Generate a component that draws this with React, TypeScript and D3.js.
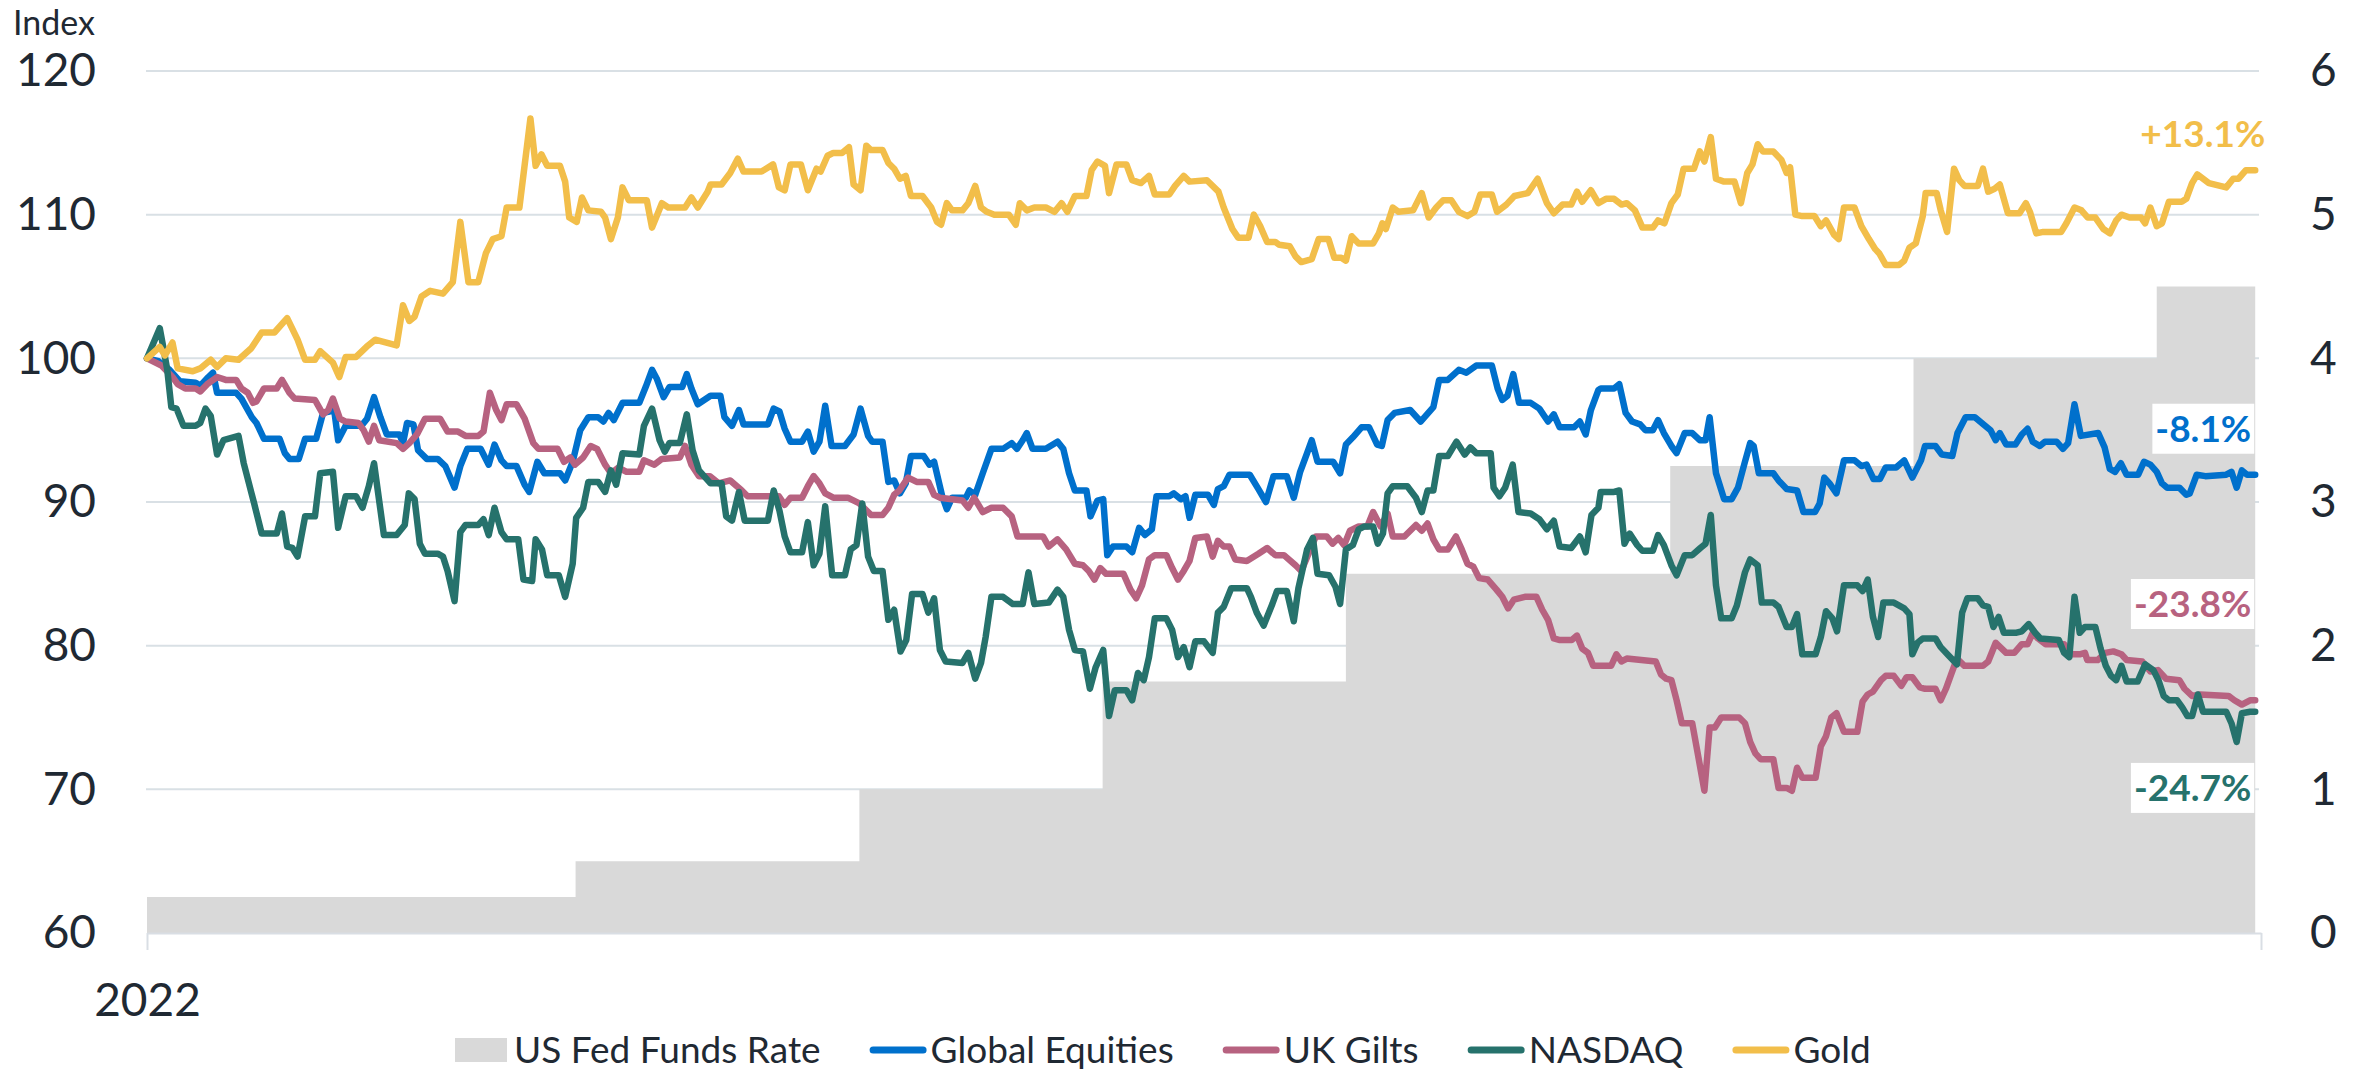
import React, { useRef, useEffect } from "react";
import * as d3 from "d3";

// day of 2022 (0 = 1 Jan), index value (1 Jan 2022 = 100)
const equities = [
  [0,100],[2,99.8],[3.9,99.2],[5.7,98.4],[8.4,98.3],[9.2,98.1],[10.6,98.7],[11.4,99],[12.1,97.6],[15.4,97.6],[16.3,97.2],[18.1,95.9],[18.9,95.5],[20.2,94.4],[22.9,94.4],[23.8,93.4],[24.6,93],[26.2,93],[27.3,94.4],[29.2,94.4],[30.4,96.2],[31.5,96.3],[32.1,97.1],[33,94.3],[34.3,95.3],[37,95.3],[38,95.8],[39.2,97.3],[40.3,95.9],[41.4,94.7],[43.6,94.7],[44.2,94.1],[44.9,95.5],[46,95.4],[46.8,93.6],[48.3,93],[50.2,93],[51.5,92.5],[53.1,91],[54.1,92.5],[55.3,93.7],[57.6,93.7],[59,92.6],[60,94],[61.2,92.9],[62.1,92.5],[63.8,92.5],[65.2,91.2],[66,90.7],[67.4,92.8],[68.6,92],[71.3,92],[72.2,91.5],[73.5,92.8],[74.8,95],[76.2,95.9],[77.9,95.9],[78.8,95.6],[79.7,96.2],[80.6,95.7],[82.1,96.9],[85,96.9],[86.1,98],[87.2,99.2],[88,98.6],[89.2,97.3],[90.2,98],[92.4,98],[93.2,98.9],[94,97.9],[95.1,96.8],
  [97.3,97.4],[99,97.4],[99.7,95.9],[101,95.3],[102.2,96.4],[103,95.4],[107.2,95.4],[108.2,96.5],[109.2,96.3],[110.1,95.1],[111.1,94.2],[113.1,94.2],[114.1,94.9],[115.1,93.5],[116.1,94.2],[117.1,96.7],[118.2,93.9],[120.5,93.9],[122,94.7],[123.2,96.5],[124.5,94.6],[125.2,94.2],[127,94.2],[128,91.4],[129,91.5],[130,90.6],[131,91.3],[131.9,93.2],[134.1,93.2],[135.1,92.6],[135.9,92.8],[137.3,90.4],[138.1,89.5],[139,90.3],[141.4,90.3],[142,90.8],[143,90.5],[144.3,92],[145.8,93.7],[147.8,93.7],[149.3,94.1],[150.2,93.7],[151.2,94.3],[151.9,94.8],[152.9,93.7],[155.2,93.7],[157.2,94.2],[158.2,93.7],[159.2,92],[160.2,90.8],[162.2,90.8],[162.9,89],[164.1,90.1],[165.1,90.2],[165.8,86.3],[166.8,86.9],[169.1,86.9],[170.1,86.5],[171.3,88.2],[172.3,87.7],[173.5,88.1],[174.3,90.4],[176.5,90.4],[177.3,90.6],[178.5,90.2],[179.3,90.4],[180,88.9],[181,90.5],[183.2,90.5],[184.2,89.8],[184.9,90.9],[185.9,91.1],[186.9,91.9],[190.4,91.9],[191.9,90.9],[193.2,90],[194.5,91.8],[196.8,91.8],[198,90.3],[199.1,92.1],[200.3,93.4],[201.1,94.3],[202.1,92.8],[204.8,92.8],[206,92],[207,94],[208.2,94.5],[209.7,95.2],[211,95.2],[212.4,94],[213.2,93.9],[214.2,95.7],[215.4,96.2],[218.1,96.4],[219.9,95.6],[222.1,96.6],[223.1,98.5],[224.6,98.5],[226.5,99.2],[227.8,99],[229.5,99.5],[232.2,99.5],[233.2,97.9],[234,97.1],[234.9,97.4],[235.9,98.9],[236.9,96.9],[238.9,96.9],[240.4,96.5],[241.9,95.6],[242.9,96.1],[243.9,95.2],[246.4,95.2],[247.4,95.6],[248.4,94.7],[249.3,96.4],[250.6,97.8],
  [251,97.9],[253.3,97.9],[254.2,98.2],[255.3,96.2],[256.4,95.6],[257.8,95.4],[258.7,95],[260,95],[260.9,95.7],[261.9,94.8],[263.2,93.9],[264.1,93.4],[265.5,94.8],[266.8,94.8],[268.1,94.3],[269.1,94.3],[269.8,95.9],[270.9,92],[272.3,90.2],[273.6,90.2],[274.7,91],[275.9,92.8],[276.8,94.1],[277.4,93.9],[278.3,92],[280.8,92],[281.7,91.5],[283.1,90.9],[284.9,90.8],[286,89.3],[288,89.3],[288.8,89.9],[289.6,91.7],[290.5,91.3],[291.7,90.6],[293,92.9],[294.8,92.9],[296,92.5],[296.9,92.6],[298.1,91.6],[299.2,91.6],[300.2,92.4],[302,92.4],[303.4,92.9],[304.8,91.7],[306.3,92.9],[307,93.9],[308.8,93.9],[309.9,93.3],[311.7,93.2],[312.6,94.8],[314,95.9],[315.6,95.9],[317.1,95.4],[318.3,95],[319.2,94.3],[319.9,94.8],[321,94],[322.6,94],[323.7,94.7],[324.7,95.1],[325.6,94.2],[326.8,93.9],[327.7,94.2],[329.7,94.2],[330.8,93.7],[331.7,94.1],[332.8,96.8],[333.9,94.6],[336.9,94.8],[338,93.8],[338.9,92.3],[339.8,92.1],[340.8,92.7],[341.8,91.9],[343.8,91.9],[344.8,92.8],[345.9,92.6],[347,92.1],[347.9,91.3],[348.8,91],[350.9,91],[352.1,90.5],[352.7,90.6],[353.9,91.9],[355.4,91.8],[359,91.9],[359.9,92.1],[360.8,91],[361.7,92.2],[362.6,91.9],[364,91.9]
];

const gilts = [
  [0,100],[2.5,99.5],[4.4,98.7],[5.3,98.2],[6.6,97.9],[8.4,97.9],[9.2,97.7],[10.4,98.2],[12.1,98.7],[13.6,98.5],[15.4,98.5],[16.3,97.9],[17.4,97.6],[18.3,96.9],[18.9,97],[20.2,97.9],[22.4,97.9],[23.3,98.5],[24.6,97.6],[25.5,97.2],[29,97.1],[30.4,96.1],[31.3,96.4],[32.1,97.2],[33.3,95.8],[34.3,95.6],[36.5,95.5],[37.4,95],[38.3,94.2],[39.2,95.3],[40.1,94.3],[43.1,94.1],[44.2,93.7],[45.3,94.1],[46.6,94.7],[48,95.8],[50.6,95.8],[51.9,94.9],[53.7,94.9],[55,94.6],[57.2,94.6],[58.1,94.9],[59.2,97.6],[60.3,96.4],[61.2,95.7],[62.1,96.8],[63.8,96.8],[65.2,95.8],[66.7,94.1],[67.6,93.7],[70.9,93.7],[72,92.8],[73.1,93.1],[73.9,92.6],[75.3,93.1],[76.6,93.9],[77.7,93.7],[79.1,92.6],[80.1,92],[81.4,92.4],[82.8,92.1],[85,92.1],[85.8,92.9],[87.6,92.6],[88.9,93],[92,93.1],[92.9,93.9],[94,92.6],
  [95.3,91.8],[97.2,91.8],[98.7,91.3],[100.7,91.5],[102.7,90.8],[103.7,90.4],[109.1,90.4],[110.1,89.8],[111.1,90.3],[113.1,90.3],[114.1,91.1],[115.1,91.8],[116.1,91.3],[117.1,90.6],[118.5,90.3],[121,90.3],[123,89.9],[124.5,89.3],[125,89.1],[127,89.1],[128,89.6],[129,90.5],[129.9,90.8],[131.4,91.7],[132.9,91.4],[134.9,91.4],[135.9,90.5],[136.9,90.3],[140.8,90.1],[141.8,89.6],[142.8,90.3],[144.3,89.3],[145.8,89.6],[147.8,89.6],[149.3,89],[150.3,87.6],[154.7,87.6],[155.7,86.9],[157.2,87.4],[158.7,86.7],[160.2,85.7],[161.6,85.6],[162.6,85.2],[163.6,84.6],[164.6,85.4],[165.6,85],[168.6,85],[169.8,83.9],[170.8,83.3],[171.8,84.2],[173,86],[174,86.3],[176,86.3],[177,85.4],[178,84.6],[179,85.2],[180,85.9],[181,87.5],[183,87.6],[184,86.2],[184.9,87.3],[185.9,86.9],[186.9,86.9],[187.9,86],[189.9,85.9],[191.9,86.4],[193.4,86.8],[194.8,86.3],[196.3,86.3],[198.3,85.6],[199.3,85.2],[201.8,87.6],[203.7,87.6],[204.7,87.1],[205.7,87.5],[206.7,87],[207.7,88],[209.2,88.3],[210.7,88.3],[211.7,89.3],[213,88.3],[214.2,89.2],[215.1,87.6],[217.1,87.6],[219.1,88.4],[220.1,88],[221.1,88.5],[222.1,87.4],[223.1,86.7],[224.6,86.7],[226,87.6],[227,86.7],[228,85.7],[229,85.5],[230,84.7],[231.5,84.6],[233,83.9],[234,83.4],[235,82.6],[236,83.2],[237.9,83.4],[239.9,83.4],[240.9,82.5],[241.9,81.8],[242.9,80.5],
  [243.8,80.4],[246,80.4],[246.9,80.7],[247.8,79.8],[248.8,79.5],[249.7,78.6],[252.8,78.6],[253.7,79.4],[254.6,78.9],[255.5,79.1],[260.5,78.9],[261.4,78],[262.3,77.7],[263.2,77.6],[264.1,76.2],[265,74.6],[266.8,74.6],[267.7,72.6],[268.9,69.9],[269.8,74.3],[270.7,74.3],[271.8,75],[274.9,75],[275.9,74.6],[276.8,73.3],[277.7,72.5],[278.6,72.1],[280.8,72.1],[281.7,70.1],[283.1,70.1],[284,69.9],[284.9,71.5],[285.8,70.8],[288.1,70.8],[289,73],[289.9,73.7],[290.8,75],[291.7,75.3],[293,74],[295.3,74],[296.2,76.1],[297.1,76.6],[298,76.8],[299.4,77.6],[300.2,77.9],[301.6,77.9],[302.9,77.2],[303.8,77.8],[304.8,77.8],[306.1,77.1],[307,77],[308.8,77],[309.7,76.2],[310.6,77],[311.5,78],[312.5,79.1],[313.8,78.6],[317,78.6],[317.9,78.9],[319.2,80.2],[321,79.5],[322.4,79.5],[323.7,80.1],[324.7,80.1],[325.6,80.9],[326.5,80.5],[327.8,80.1],[331,80.1],[332.3,79.4],[333.7,79.4],[334.6,79.5],[335,79],[336.8,79],[338.1,79.5],[339.5,79.6],[340.9,79.4],[341.8,79],[344.5,78.9],[345.9,78.2],[347.2,78.3],[348.6,77.7],[350.9,77.6],[351.8,77],[353.1,76.5],[354.5,76.6],[359.4,76.5],[360.4,76.2],[361.7,75.9],[363.1,76.2],[364,76.2]
];

const nasdaq = [
  [0,100],[2.2,102.1],[2.8,100.8],[3.5,99.2],[4.2,96.6],[5.1,96.5],[6.3,95.3],[8.4,95.3],[9.2,95.5],[10.1,96.5],[11,96],[12.1,93.3],[13.2,94.3],[15.8,94.6],[16.7,92.7],[18.5,89.9],[19.8,87.8],[22.4,87.8],[23.3,89.2],[24.2,86.9],[25.1,86.8],[26,86.2],[27.3,89],[29,89],[29.9,92],[32.1,92.1],[33,88.2],[34.3,90.4],[36.1,90.4],[37.2,89.6],[38.3,91.1],[39.2,92.7],[40.9,87.7],[43.1,87.7],[44.5,88.4],[45.2,90.6],[46.2,90.2],[47.1,87.1],[48,86.4],[50.2,86.4],[51.1,86.2],[51.9,85.2],[53.1,83.1],[54.1,87.9],[55,88.4],[57.2,88.4],[58.1,88.8],[59,87.7],[60,89.6],[61.2,87.9],[62.1,87.4],[64.1,87.4],[65,84.6],[66.5,84.5],[67.1,87.4],[68.2,86.7],[69.1,84.9],[71.1,84.9],[72.2,83.4],[73.5,85.7],[74.1,88.9],[75.3,89.6],[76.2,91.4],[77.9,91.4],[79.1,90.7],[80.1,92.2],[81,91.2],[82.1,93.4],[85,93.3],[85.8,95.3],[87.2,96.5],[88.5,94.3],[89.4,93.5],[90.2,94.1],[92,94.1],[93.2,96.1],[94.2,93.6],
  [95.3,92.2],[97.3,91.3],[99.2,91.3],[100,89],[101,88.7],[102.2,90.7],[103.2,88.7],[107.2,88.7],[108.2,90.8],[109.2,89.4],[110.1,87.6],[111.1,86.5],[113.1,86.5],[114.1,88.6],[115.1,85.6],[116.1,86.4],[117.1,89.7],[118.3,84.9],[120.5,84.9],[121.5,86.7],[122.5,87],[123.5,89.9],[124.5,86.2],[125.5,85.2],[127,85.2],[128,81.8],[129,82.5],[130.1,79.6],[131.1,80.4],[132.1,83.6],[133.9,83.6],[134.9,82.3],[135.9,83.3],[136.9,79.7],[137.9,78.9],[140.8,78.8],[141.8,79.5],[143,77.7],[144,78.8],[144.8,80.6],[145.8,83.4],[147.8,83.4],[149.5,82.9],[151.2,82.9],[152.2,85.1],[153.2,82.9],[155.7,83],[157.2,83.9],[158.2,83.4],[159.2,81.1],[160.2,79.7],[161.6,79.6],[162.8,77],[163.8,78.5],[165.1,79.7],[166.1,75.1],[167.1,76.9],[169.1,76.9],[170.1,76.2],[171.1,78.1],[172.1,77.6],[173,79.2],[174,81.9],[176,81.9],[177,81.1],[178,79.2],[179,79.9],[180,78.5],[181,80.3],[182.5,80.3],[184,79.5],[184.9,82.3],[185.9,82.7],[187.2,84],[189.9,84],[190.6,83.4],[191.6,82.3],[192.8,81.4],[194.3,82.9],[195.1,83.8],[196.8,83.8],[198,81.7],[198.8,84],[200.3,86.7],[201.3,87.5],[202.1,85],[204.1,84.9],[205.2,84.1],[206,82.9],[207,86.7],[208.2,87],[209.2,88.1],[210.2,88.3],[211.7,88.3],[212.5,87.1],[213.4,87.8],[214.2,90.6],[215.1,91.1],[217.6,91.1],[219.1,90.3],[220.1,89.3],[221.1,90.8],[222.1,90.8],[223.1,93.2],[224.6,93.2],[226.1,94.2],[227.5,93.3],[228.5,93.8],[229.5,93.4],[232,93.4],[232.5,91],[233.5,90.4],[234.5,91],[235.8,92.6],[236.8,89.3],[238.9,89.2],[240.4,88.8],[241.7,88.1],[242.9,88.7],[243.9,86.9],[245.9,86.8],[247.4,87.6],[248.4,86.5],[249.4,89.1],[250.6,89.6],
  [251,90.7],[253.3,90.7],[254.2,90.8],[255.1,87.1],[256,87.8],[257.3,87],[258.2,86.6],[260,86.6],[260.9,87.7],[261.9,87],[263.2,85.6],[264.1,84.9],[265.5,86.3],[266.8,86.3],[268.2,86.8],[269.1,87.1],[270,89.1],[270.9,84.2],[271.8,81.9],[273.6,81.9],[274.5,82.8],[275.9,85.1],[276.8,86],[278.1,85.6],[278.8,83],[280.8,83],[281.7,82.7],[283.1,81.3],[284,81.3],[284.9,82.2],[285.8,79.4],[288.1,79.4],[289,80.6],[289.9,82.4],[291,81.9],[291.8,81],[293,84.2],[295.3,84.2],[296.2,83.8],[297.1,84.6],[298,82],[298.9,80.6],[299.8,83],[301.6,83],[303.4,82.6],[304.3,82.2],[304.8,79.4],[305.7,80.2],[306.6,80.5],[308.8,80.5],[309.7,79.9],[311.1,79.3],[312.5,78.7],[313.4,82.3],[314.3,83.3],[316.1,83.3],[317,82.8],[317.9,82.7],[318.8,81.3],[319.7,82],[320.6,80.9],[322.8,80.9],[323.7,81],[324.9,81.5],[326,80.9],[326.9,80.5],[330.1,80.4],[331,79.5],[331.9,79.2],[332.8,83.4],[333.7,80.9],[334.6,81.3],[336.4,81.3],[337.3,79.8],[338.2,78.6],[339.1,77.9],[340,77.6],[340.9,78.6],[341.8,77.5],[343.7,77.5],[345,78.7],[346.4,78.3],[347.3,77.6],[348.2,76.5],[349.1,76.2],[350.5,76.2],[351.4,75.7],[352.3,75.1],[353.1,75.1],[354.1,76.6],[355,75.4],[359,75.4],[359.9,74.6],[360.8,73.3],[361.7,75.3],[363.1,75.4],[364,75.4]
];

const gold = [
  [0,100],[2.2,100.8],[3.1,100.2],[4.4,101.1],[5.3,99.3],[7.9,99.1],[9.2,99.3],[11,99.9],[12.1,99.4],[13.6,100],[15.8,99.9],[18,100.7],[19.8,101.8],[22,101.8],[24.2,102.8],[26,101.3],[27.3,99.9],[29,99.9],[29.9,100.5],[32.1,99.7],[33.2,98.7],[34.3,100.1],[36.1,100.1],[37.9,100.8],[39.4,101.3],[43.1,100.9],[44.2,103.7],[45.3,102.6],[46.2,102.9],[47.4,104.3],[48.9,104.7],[51.1,104.5],[52.8,105.3],[54.1,109.5],[55.5,105.3],[57.2,105.3],[58.5,107.3],[59.7,108.3],[61.2,108.5],[62.1,110.5],[64.3,110.5],[66.2,116.7],[67.1,113.4],[68.1,114.2],[69.1,113.4],[71.3,113.4],[72.2,112.3],[72.9,109.8],[74.2,109.5],[75.1,111.2],[76.2,110.3],[78.4,110.2],[79.1,109.8],[80.1,108.3],[81.3,109.8],[82.1,111.9],[83.2,111],[86.3,111],[87.2,109.1],[88.9,110.8],[90,110.5],[92.9,110.5],[94,111.2],[95.1,110.5],
  [96.8,111.6],[97.3,112.1],[99.2,112.1],[100.7,112.9],[102,113.9],[103,113],[106.1,113],[108.1,113.5],[109.1,111.9],[110.1,111.7],[111.1,113.5],[112.9,113.5],[114.1,111.7],[115.6,113.2],[116.3,113],[117.5,114.1],[118.5,114.3],[120,114.3],[121.2,114.7],[122,112.1],[123.2,111.7],[124.2,114.8],[125,114.5],[127,114.5],[128,113.6],[129,113.2],[130,112.5],[131,112.7],[131.9,111.3],[133.9,111.3],[135.4,110.5],[136.4,109.5],[137.1,109.3],[138.1,110.8],[139,110.3],[140.8,110.3],[141.8,110.8],[143,112],[144,110.5],[145,110.2],[146.3,110],[148.8,110],[150,109.3],[150.7,110.8],[151.9,110.3],[153.2,110.5],[155.2,110.5],[156.7,110.2],[157.9,110.8],[158.9,110.2],[160.2,111.3],[162.2,111.3],[163.1,113.1],[164.1,113.7],[165.4,113.4],[166.1,111.5],[167.4,113.5],[169.1,113.5],[170.1,112.4],[171.6,112.2],[173,112.7],[174,111.4],[176.5,111.4],[177.5,112],[179,112.7],[180,112.3],[183,112.4],[185,111.6],[185.9,110.5],[187.4,109],[188.4,108.4],[190.2,108.4],[191.1,110],[192.2,109.2],[193.4,108.1],[194.8,108.1],[195.5,107.9],[197.3,107.8],[198.3,107.1],[199.3,106.7],[201.1,106.9],[202.3,108.3],[204,108.3],[205,107],[206.2,107],[207,106.8],[208,108.5],[209.2,108],[211.7,108],[212.7,108.7],[213.3,109.4],[213.9,109],[215.1,110.5],[216.1,110.2],[218.6,110.3],[220.1,111.5],[221.3,109.8],[222.6,110.5],[223.8,111],[225.2,111],[226.5,110.2],[228,109.9],[229.2,110.2],[230.2,111.4],[232.2,111.4],[233.1,110.2],[234.7,110.7],[236.1,111.3],[238.4,111.5],[240.1,112.5],[241.7,110.8],[242.9,110.1],[244.4,110.7],[245.9,110.7],[246.9,111.6],[247.8,110.9],[249.3,111.7],[250.6,110.8],
  [251.9,111.1],[253.3,111.1],[254.6,110.7],[255.5,110.8],[256.9,110.3],[258.2,109.1],[260,109.1],[260.9,109.6],[262,109.4],[263.2,110.8],[264.3,111.4],[265.3,113.2],[267.1,113.2],[268.1,114.4],[268.9,113.7],[270,115.4],[270.9,112.5],[272.3,112.3],[274.1,112.3],[275.2,110.8],[276.3,112.9],[277.2,113.5],[278.1,114.9],[279,114.4],[280.8,114.4],[282.2,113.8],[283.1,112.9],[283.7,113.3],[284.6,110],[285.8,109.9],[287.9,109.9],[289,109.2],[289.9,109.6],[291.3,108.6],[292.1,108.3],[293,110.5],[294.8,110.5],[296,109.2],[297.3,108.3],[298.4,107.6],[299.1,107.3],[300.2,106.5],[302.5,106.5],[303.4,106.8],[304.3,107.7],[305.4,108],[306.6,109.9],[307.1,111.5],[309,111.5],[309.7,110.3],[310.8,108.8],[312,113.2],[312.9,112.4],[313.8,112],[316.1,112],[317,113.2],[317.9,111.6],[319,111.8],[319.9,112.1],[321.3,110.1],[323.3,110.1],[324.4,110.8],[325.1,110.2],[326.2,108.7],[327.4,108.8],[330.5,108.8],[331.4,109.4],[332.8,110.5],[334,110.3],[335.1,109.8],[336.4,109.8],[337.8,109],[338.9,108.7],[340,109.6],[340.9,110],[342.3,109.8],[344.3,109.8],[345,109.4],[345.9,110.5],[347,109.2],[347.9,109.4],[349.1,110.9],[351.3,110.9],[352.1,111.1],[353.1,112.2],[354,112.8],[356,112.2],[359,111.9],[360.2,112.5],[361.1,112.5],[362.4,113.1],[364,113.1]
];

// US Fed funds target rate (upper bound), change dates
const fedDates = ["2022-01-01", "2022-03-16", "2022-05-04", "2022-06-15", "2022-07-27", "2022-09-21", "2022-11-02", "2022-12-14", "2022-12-31"];
const fedRate = [0.25, 0.5, 1.0, 1.75, 2.5, 3.25, 4.0, 4.5, 4.5];

const indexTicks = [60, 70, 80, 90, 100, 110, 120];
const rateTicks = [0, 1, 2, 3, 4, 5, 6];

const seriesNames = ["Global Equities", "UK Gilts", "NASDAQ", "Gold"];
const seriesColors = ["#0070cc", "#b76280", "#26726c", "#f2be4a"];
const endLabels = ["-8.1%", "-23.8%", "-24.7%", "+13.1%"];
// where each end label sits, in index units
const labelLevels = [95.1, 82.9, 70.1, 115.6];

export default function App() {
  const chartRef = useRef(null);

  useEffect(() => {
    drawChart();
  }, []);

  const drawChart = () => {
    const width = 2371;
    const height = 1072;
    const left = 147;
    const right = 2261;
    const top = 71;
    const bottom = 933;
    const font = "Lato, 'Open Sans', sans-serif";
    const textColor = "#1f2933";

    const start = Date.UTC(2022, 0, 1);
    const day = (d) => new Date(start + d * 864e5);

    const x = d3.scaleUtc().domain([day(0), day(365)]).range([left, right]);
    const y = d3.scaleLinear().domain([60, 120]).range([bottom, top]);
    const yRate = d3.scaleLinear().domain([0, 6]).range([bottom, top]);

    const svg = d3
      .select(chartRef.current)
      .html("")
      .attr("width", width)
      .attr("height", height)
      .style("font-family", font);

    svg.append("rect").attr("width", width).attr("height", height).attr("fill", "#ffffff");

    // gridlines
    svg
      .append("g")
      .selectAll("line")
      .data(indexTicks.filter((t) => t > 60))
      .join("line")
      .attr("x1", left - 1)
      .attr("x2", right - 2)
      .attr("y1", (d) => y(d))
      .attr("y2", (d) => y(d))
      .attr("stroke", "#d9e0e5")
      .attr("stroke-width", 2);

    // fed funds rate area
    const fed = fedDates.map((d, i) => ({ date: new Date(d), v: fedRate[i] }));
    const area = d3
      .area()
      .x((d) => x(d.date))
      .y0(yRate(0))
      .y1((d) => yRate(d.v))
      .curve(d3.curveStepAfter);
    svg.append("path").datum(fed).attr("d", area).attr("fill", "#d9d9d9");

    // x axis
    const xAxis = svg
      .append("g")
      .attr("transform", `translate(0, ${bottom})`)
      .call(
        d3
          .axisBottom(x)
          .tickValues([day(0), day(365)])
          .tickSize(17)
          .tickSizeOuter(0)
          .tickPadding(33)
          .tickFormat((d, i) => (i === 0 ? "2022" : ""))
      );
    xAxis.select(".domain").attr("stroke", "#d9dee4").attr("stroke-width", 2);
    xAxis.selectAll(".tick line").attr("stroke", "#d9dee4").attr("stroke-width", 2);
    xAxis.selectAll("text").attr("font-size", 46).attr("fill", textColor).style("font-family", font);

    // left axis
    const yAxis = svg
      .append("g")
      .attr("transform", `translate(${left}, 0)`)
      .call(d3.axisLeft(y).tickValues(indexTicks).tickSize(0).tickPadding(51));
    yAxis.select(".domain").remove();
    yAxis.selectAll("text").attr("font-size", 46).attr("fill", textColor).style("font-family", font);

    // right axis
    const rAxis = svg
      .append("g")
      .attr("transform", `translate(${right}, 0)`)
      .call(d3.axisRight(yRate).tickValues(rateTicks).tickFormat(d3.format("d")).tickSize(0).tickPadding(49));
    rAxis.select(".domain").remove();
    rAxis.selectAll("text").attr("font-size", 46).attr("fill", textColor).style("font-family", font);

    svg
      .append("text")
      .attr("x", 13)
      .attr("y", 35)
      .attr("font-size", 34)
      .attr("fill", textColor)
      .text("Index");

    // lines
    const line = d3
      .line()
      .x((d) => x(day(d[0])))
      .y((d) => y(d[1]));

    [equities, gilts, nasdaq, gold].forEach((data, i) => {
      svg
        .append("path")
        .datum(data)
        .attr("fill", "none")
        .attr("stroke", seriesColors[i])
        .attr("stroke-width", 6.5)
        .attr("stroke-linejoin", "round")
        .attr("stroke-linecap", "round")
        .attr("d", line);
    });

    // end labels
    const xEnd = x(day(364));
    endLabels.forEach((label, i) => {
      const g = svg.append("g");
      const cy = y(labelLevels[i]);
      const t = g
        .append("text")
        .attr("x", i === 3 ? xEnd + 10 : xEnd - 4)
        .attr("y", cy + 13)
        .attr("text-anchor", "end")
        .attr("font-size", 37)
        .attr("font-weight", 700)
        .attr("fill", seriesColors[i])
        .text(label);
      const box = t.node().getBBox();
      g.insert("rect", "text")
        .attr("x", box.x - 3)
        .attr("y", cy - 25)
        .attr("width", box.width + 6)
        .attr("height", 50)
        .attr("fill", "#ffffff");
    });

    // legend
    const legend = svg.append("g");
    const legendY = 1050;
    let lx = 455;
    ["US Fed Funds Rate", ...seriesNames].forEach((name, i) => {
      if (i === 0) {
        legend
          .append("rect")
          .attr("x", lx)
          .attr("y", legendY - 12)
          .attr("width", 52)
          .attr("height", 24)
          .attr("fill", "#d9d9d9");
        lx += 59;
      } else {
        legend
          .append("line")
          .attr("x1", lx + 3.5)
          .attr("x2", lx + 53.5)
          .attr("y1", legendY)
          .attr("y2", legendY)
          .attr("stroke", seriesColors[i - 1])
          .attr("stroke-width", 7)
          .attr("stroke-linecap", "round");
        lx += 61;
      }
      const t = legend
        .append("text")
        .attr("x", lx)
        .attr("y", legendY + 13)
        .attr("font-size", 37)
        .attr("fill", textColor)
        .text(name);
      lx += t.node().getComputedTextLength() + 49;
    });
  };

  return (
    <div style={{ position: "absolute", left: 0, top: 0, width: 2371, height: 1072, overflow: "hidden" }}>
      <svg ref={chartRef} style={{ display: "block" }}></svg>
    </div>
  );
}
